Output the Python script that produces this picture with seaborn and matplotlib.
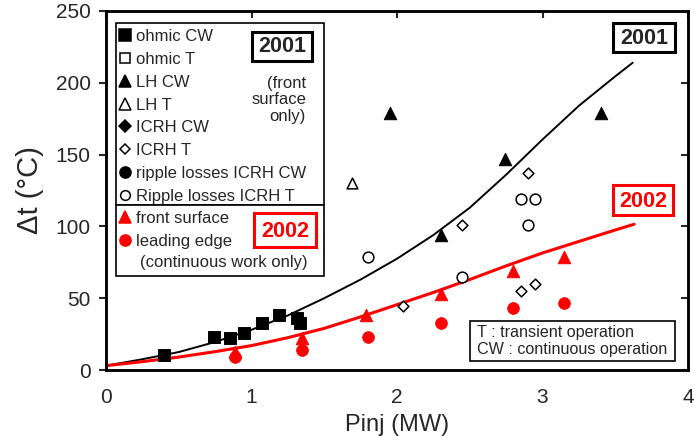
import matplotlib.pyplot as plt
import seaborn as sns
from matplotlib.lines import Line2D
from matplotlib.patches import Rectangle

# data
ohmic_cw_x = [0.40, 0.745, 0.85, 0.95, 1.07, 1.19, 1.31, 1.33]
ohmic_cw_y = [10.4, 23, 22, 26, 32.6, 38, 36, 33]
lh_cw_x = [1.95, 2.30, 2.74, 3.40]
lh_cw_y = [179, 94, 147, 179]
lh_t_x = [1.69]
lh_t_y = [130]
icrh_t_x = [2.04, 2.45, 2.90, 2.85, 2.95]
icrh_t_y = [44.5, 100.7, 137.5, 55, 60]
ripple_t_x = [1.80, 2.45, 2.85, 2.95, 2.90]
ripple_t_y = [78.5, 65, 119.4, 119.4, 101]
front_x = [0.89, 1.35, 1.79, 2.30, 2.80, 3.15]
front_y = [12.7, 22, 38, 53, 69, 78.6]
edge_x = [0.89, 1.35, 1.80, 2.30, 2.80, 3.15]
edge_y = [9, 14, 23, 33, 43, 47]

# fitted curves
fit2001_x = [0, 0.25, 0.5, 0.75, 1.0, 1.25, 1.5, 1.75, 2.0, 2.25, 2.5,
             2.75, 3.0, 3.25, 3.5, 3.62]
fit2001_y = [3, 7.5, 12.5, 19.5, 28, 38, 50, 63, 77.5, 94, 113,
             136, 160.5, 184, 204.5, 214]
fit2002_x = [0, 0.25, 0.5, 0.75, 1.0, 1.25, 1.5, 1.75, 2.0, 2.25, 2.5,
             2.75, 3.0, 3.25, 3.5, 3.63]
fit2002_y = [3, 5.8, 9, 12.8, 17, 22.5, 29, 37, 45.5, 54, 63,
             72.5, 81.5, 89.5, 97.5, 101.5]

xticks = [0, 1, 2, 3, 4]
yticks = [0, 50, 100, 150, 200, 250]

RED = '#ff0000'

sns.set_style('white')
plt.rcParams['font.family'] = ['Liberation Sans', 'DejaVu Sans']

fig = plt.figure(figsize=(6.94, 4.36), dpi=100)
# axes box in pixels: left 106, right 688, top 11, bottom 370
L, R, T, B = 106, 688, 11, 370
ax = fig.add_axes([L / 694, 1 - B / 436, (R - L) / 694, (B - T) / 436])


def ac(px, py):
    # pixel -> axes fraction
    return (px - L) / (R - L), (B - py) / (B - T)


def box(px0, py0, px1, py1, color='black', lw=1.2):
    xa, ya = ac(px0, py1)
    xb, yb = ac(px1, py0)
    ax.add_patch(Rectangle((xa, ya), xb - xa, yb - ya, transform=ax.transAxes,
                           fc='white', ec=color, lw=lw, zorder=5))


sns.lineplot(x=fit2001_x, y=fit2001_y, ax=ax, color='black', lw=1.4,
             sort=False, estimator=None, zorder=2)
sns.lineplot(x=fit2002_x, y=fit2002_y, ax=ax, color=RED, lw=2.2,
             sort=False, estimator=None, zorder=2)

sns.scatterplot(x=ohmic_cw_x, y=ohmic_cw_y, ax=ax, marker='s', s=70,
                color='black', edgecolor='black', zorder=3)
sns.scatterplot(x=lh_cw_x, y=lh_cw_y, ax=ax, marker='^', s=80,
                color='black', edgecolor='black', zorder=3)
sns.scatterplot(x=lh_t_x, y=lh_t_y, ax=ax, marker='^', s=60,
                facecolor='white', edgecolor='black', linewidth=1.1, zorder=3)
sns.scatterplot(x=icrh_t_x, y=icrh_t_y, ax=ax, marker='D', s=30,
                facecolor='white', edgecolor='black', linewidth=1.1, zorder=3)
sns.scatterplot(x=ripple_t_x, y=ripple_t_y, ax=ax, marker='o', s=60,
                facecolor='white', edgecolor='black', linewidth=1.1, zorder=3)
sns.scatterplot(x=front_x, y=front_y, ax=ax, marker='^', s=80,
                color=RED, edgecolor=RED, zorder=4)
sns.scatterplot(x=edge_x, y=edge_y, ax=ax, marker='o', s=70,
                color=RED, edgecolor=RED, zorder=4)

ax.set_xlim(0, 4)
ax.set_ylim(0, 250)
ax.set_xticks(xticks)
ax.set_yticks(yticks)
ax.tick_params(axis='x', direction='in', top=True, length=5, width=1.5,
               labelsize=15, pad=13)
ax.tick_params(axis='y', direction='out', right=False, length=5, width=1.5,
               labelsize=15, pad=6)
ax2 = ax.twinx()
ax2.set_ylim(0, 250)
ax2.set_yticks(yticks)
ax2.tick_params(axis='y', direction='in', length=5, width=1.5, labelright=False)
for a in (ax, ax2):
    for sp in a.spines.values():
        sp.set_linewidth(1.8)
        sp.set_color('black')

ax.set_xlabel('Pinj (MW)', fontsize=17, labelpad=5)
ax.set_ylabel('\u0394t (\u00b0C)', fontsize=21, labelpad=8)

# legend frames
box(116, 23, 324, 205)
box(116, 205, 324, 276)


def h(marker, fc, ec, ms):
    return Line2D([], [], ls='none', marker=marker, markerfacecolor=fc,
                  markeredgecolor=ec, markersize=ms, markeredgewidth=1.1)


handles1 = [h('s', 'black', 'black', 8), h('s', 'white', 'black', 7),
            h('^', 'black', 'black', 9), h('^', 'white', 'black', 8),
            h('D', 'black', 'black', 6.5), h('D', 'white', 'black', 5.5),
            h('o', 'black', 'black', 8), h('o', 'white', 'black', 7)]
labels1 = ['ohmic CW', 'ohmic T', 'LH CW', 'LH T', 'ICRH CW', 'ICRH T',
           'ripple losses ICRH CW', 'Ripple losses ICRH T']
leg1 = ax.legend(handles1, labels1, loc='upper left',
                 bbox_to_anchor=ac(115, 26), frameon=False, fontsize=12,
                 handlelength=0.75, handletextpad=0.3, labelspacing=0.465,
                 borderpad=0.2, borderaxespad=0)
leg1.set_zorder(7)
ax.add_artist(leg1)
handles2 = [h('^', RED, RED, 9), h('o', RED, RED, 8)]
labels2 = ['front surface', 'leading edge']
leg2 = ax.legend(handles2, labels2, loc='upper left',
                 bbox_to_anchor=ac(115, 208), frameon=False, fontsize=12,
                 handlelength=0.75, handletextpad=0.3, labelspacing=0.465,
                 borderpad=0.2, borderaxespad=0)
leg2.set_zorder(7)

box(252, 32, 312, 61, lw=2.2)
ax.text(*ac(282, 47), '2001', transform=ax.transAxes, fontsize=15.5,
        fontweight='bold', ha='center', va='center', zorder=6)
ax.text(*ac(306, 100), '(front\nsurface\nonly)', transform=ax.transAxes,
        fontsize=12, ha='right', va='center', multialignment='right',
        linespacing=1.12, zorder=6)
box(254, 213, 316, 247, color=RED, lw=2.2)
ax.text(*ac(285, 231), '2002', transform=ax.transAxes, fontsize=15.5,
        fontweight='bold', color=RED, ha='center', va='center', zorder=6)
ax.text(*ac(224, 262), '(continuous work only)', transform=ax.transAxes,
        fontsize=12, ha='center', va='center', zorder=6)
box(613, 23, 675, 52, lw=2.2)
ax.text(*ac(644, 38), '2001', transform=ax.transAxes, fontsize=15.5,
        fontweight='bold', ha='center', va='center', zorder=6)
box(613, 185, 673, 215, color=RED, lw=2.2)
ax.text(*ac(643, 201), '2002', transform=ax.transAxes, fontsize=15.5,
        fontweight='bold', color=RED, ha='center', va='center', zorder=6)
box(470, 321, 675, 361)
ax.text(*ac(477, 341), 'T : transient operation\nCW : continuous operation',
        transform=ax.transAxes, fontsize=11.6, ha='left', va='center',
        linespacing=1.12, zorder=6)

fig.savefig('out.png', dpi=100)
